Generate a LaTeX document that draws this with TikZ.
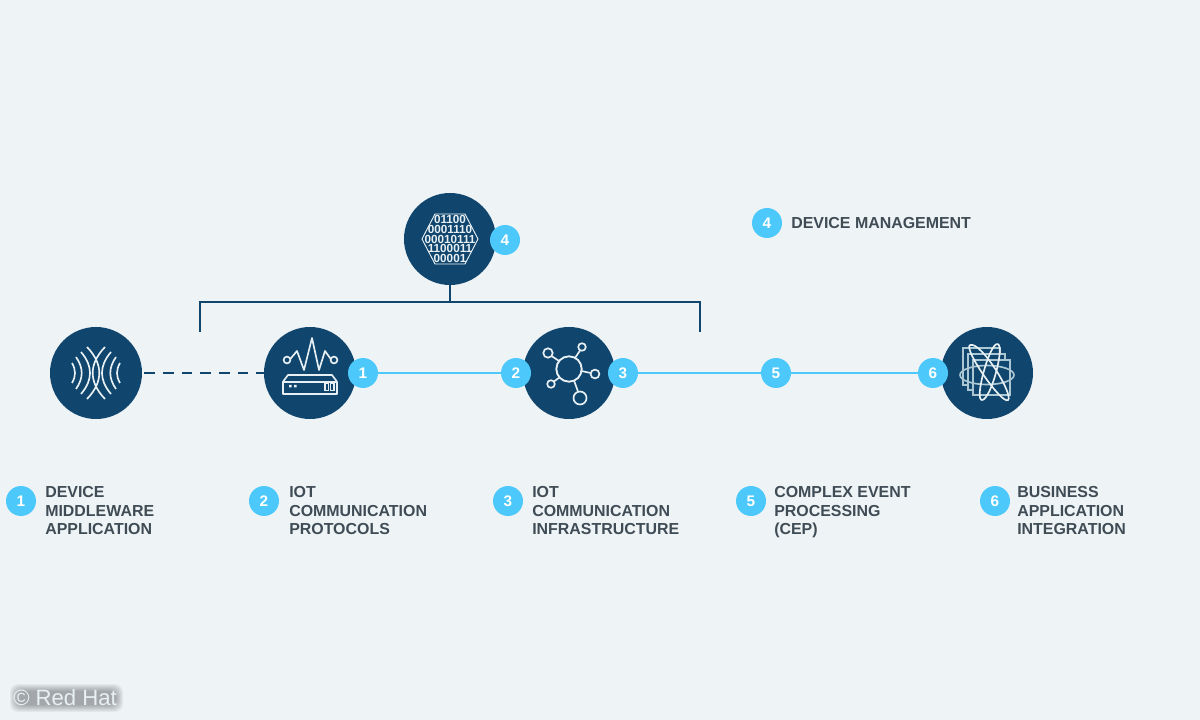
\documentclass[tikz,border=0pt]{standalone}
\usepackage{fontspec}
\setmainfont{Liberation Sans}
\definecolor{bgc}{HTML}{EEF3F6}
\definecolor{navy}{HTML}{10466E}
\definecolor{sky}{HTML}{4CC9FA}
\definecolor{txt}{HTML}{3F4C55}
\definecolor{ico}{HTML}{E8F0F4}
\definecolor{icosoft}{HTML}{A9C6D2}
\tikzset{
  hub/.style={circle,fill=navy,minimum size=69pt,inner sep=0pt},
  badge/.style={circle,fill=sky,minimum size=22.5pt,inner sep=0pt,text=white,font=\bfseries\fontsize{11.5}{12}\selectfont},
  lab/.style={anchor=north west,align=left,text=txt,inner sep=0pt,font=\bfseries\fontsize{11.95}{13.9}\selectfont},
  navyline/.style={draw=navy,line width=2.1pt},
  skyline/.style={draw=sky,line width=2.1pt},
  icon/.style={draw=ico,line width=1.25pt,fill=none},
  iconthin/.style={draw=ico,line width=0.9pt,fill=none}
}
\begin{document}
\begin{tikzpicture}[x=0.75pt,y=-0.75pt]
\useasboundingbox[fill=bgc] (0,0) rectangle (1200,720);
% hubs
\coordinate (brL) at (200,332);
\coordinate (brR) at (700,332);
\coordinate (brLt) at (200,302);
\coordinate (brRt) at (700,302);
\coordinate (brM) at (450,302);
\node[hub] (hubA) at (96,373) {};
\node[hub] (hubB) at (310,373) {};
\node[hub] (hubC) at (569,373) {};
\node[hub] (hubD) at (987,373) {};
\node[hub] (hubT) at (450,239) {};
% connectors
\draw[navyline] (brL) -- (brLt) -- (brRt) -- (brR);
\draw[navyline] (hubT) -- (brM);
\draw[navyline,dash pattern=on 8pt off 6pt] (hubA.east) ++(2,0) -- (hubB.west);
\node[badge] (b1) at (363,373) {1};
\node[badge] (b2) at (516,373) {2};
\node[badge] (b3) at (623,373) {3};
\node[badge] (b5) at (776,373) {5};
\node[badge] (b6) at (933,373) {6};
\node[badge] (b4) at (505,240) {4};
\draw[skyline] (b1) -- (b2);
\draw[skyline] (b3) -- (b5);
\draw[skyline] (b5) -- (b6);
% icon A: waves
\begin{scope}[shift={(96,373)}]
\foreach \s in {1,-1}{
  \begin{scope}[xscale=\s]
  \draw[icon] (-9,-26) .. controls (7.4,-9) and (7.4,9) .. (-9,26);
  \draw[icon] (-15,-21) .. controls (-3,-7) and (-3,7) .. (-15,21);
  \draw[icon] (-20,-16) .. controls (-12.4,-5) and (-12.4,5) .. (-20,16);
  \draw[icon] (-24,-10) .. controls (-20,-3) and (-20,3) .. (-24,10);
  \end{scope}}
\end{scope}
% icon B: device with pulse
\begin{scope}[shift={(310,373)}]
\draw[icon] (-23,-13) circle (3.4);
\draw[icon] (24,-13) circle (3.4);
\draw[icon,line join=round] (-20,-13.7) -- (-13,-22) -- (-6,-3) -- (2,-35) -- (9,-3) -- (15,-22) -- (21,-13.7);
\draw[icon,line join=round] (-27,8.7) -- (-27,21) -- (27,21) -- (27,8.7) -- cycle;
\draw[icon,line join=round] (-27,8.7) -- (-22,2) -- (22,2) -- (27,8.7);
\fill[ico] (-21,12) rectangle (-18.5,14.5) (-16,12) rectangle (-13.5,14.5);
\draw[iconthin] (15,10) rectangle (18.5,17.5) (20.5,10) rectangle (24,17.5);
\end{scope}
% icon C: network
\begin{scope}[shift={(569,373)}]
\draw[icon,line width=1.4pt] (0,-4) circle (12.7);
\draw[icon] (-21,-20) circle (4.7);
\draw[icon] (13,-26) circle (3.8);
\draw[icon] (26,1) circle (4.4);
\draw[icon] (-18,11) circle (3.8);
\draw[icon] (11,25) circle (6.5);
\draw[icon] (-17.5,-17) -- (-10,-12);
\draw[icon] (11,-22.5) -- (6,-15);
\draw[icon] (21.5,0) -- (12.5,-2);
\draw[icon] (-15,8.5) -- (-9,4);
\draw[icon] (9,18.5) -- (5,7.5);
\end{scope}
% icon D: frames and orbits
\begin{scope}[shift={(987,373)}]
\draw[draw=icosoft,line width=1.2pt,fill=navy] (-24,-25) rectangle (13,12);
\draw[draw=icosoft,line width=1.2pt,fill=navy] (-19,-19) rectangle (18,17);
\draw[draw=icosoft,line width=1.2pt,fill=navy] (-14,-13) rectangle (23,22);
\draw[icon,draw=icosoft] (0,2) ellipse (27 and 9.5);
\draw[icon] (-17,-28) .. controls (-6,-32) and (27,22) .. (21,27) .. controls (15,32) and (-24,-24) .. (-17,-28);
\draw[icon] (10,-29) .. controls (19,-30) and (4,27) .. (-5,27) .. controls (-13,27) and (2,-28) .. (10,-29);
\end{scope}
% icon T: binary hexagon
\begin{scope}[shift={(450,239)}]
\draw[iconthin,line width=0.7pt,line join=round] (-28,0) -- (-15,-25) -- (15,-25) -- (28,0) -- (15,25) -- (-15,25) -- cycle;
\node[inner sep=0pt,align=center,text=ico,font=\bfseries\fontsize{8.8}{7.4}\selectfont] (bits) at (0,0) {01100\\0001110\\00010111\\1100011\\00001};
\end{scope}
% legend
\node[badge] (l4) at (767,223) {4};
\node[lab,anchor=west] (t4) at (791,223) {DEVICE MANAGEMENT};
\node[badge] (l1) at (21,501) {1};
\node[lab] (t1) at (45,486.5) {DEVICE\\MIDDLEWARE\\APPLICATION};
\node[badge] (l2) at (264,501) {2};
\node[lab] (t2) at (289,486.5) {IOT\\COMMUNICATION\\PROTOCOLS};
\node[badge] (l3) at (508,501) {3};
\node[lab] (t3) at (532,486.5) {IOT\\COMMUNICATION\\INFRASTRUCTURE};
\node[badge] (l5) at (751,501) {5};
\node[lab] (t5) at (774,486.5) {COMPLEX EVENT\\PROCESSING\\(CEP)};
\node[badge] (l6) at (995,501) {6};
\node[lab] (t6) at (1017,486.5) {BUSINESS\\APPLICATION\\INTEGRATION};
% credit with soft halo
\foreach \g in {0,1,2,3,4,5,6,7}{
  \fill[black,opacity=0.045,rounded corners=6pt] (17-\g,691-\g) rectangle (116+\g,705+\g);
}
\node[inner sep=0pt,anchor=west,text=ico,font=\fontsize{16.6}{17}\selectfont] (credit) at (13,698) {© Red Hat};
\end{tikzpicture}
\end{document}
